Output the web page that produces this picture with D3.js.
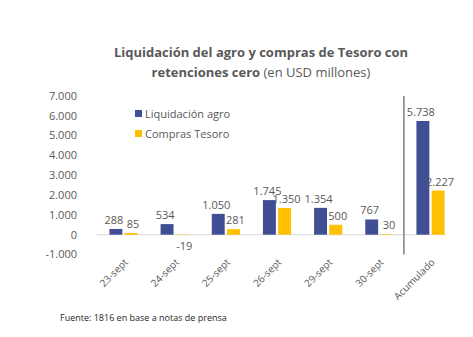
<!DOCTYPE html>
<html lang="es">
<head>
<meta charset="UTF-8">
<title>Liquidación del agro y compras de Tesoro</title>
<script src="https://d3js.org/d3.v7.min.js"></script>
<style>
    body { margin: 0; background: #fff; font-family: "Open Sans", Arial, sans-serif; }
    svg { display: block; }
</style>
</head>
<body>
<svg id="chart" width="473" height="337"></svg>
<script>
// Data
const categories = ["23-sept", "24-sept", "25-sept", "26-sept", "29-sept", "30-sept", "Acumulado"];
const liquidacion = [288, 534, 1050, 1745, 1354, 767, 5738];
const compras = [85, -19, 281, 1350, 500, 30, 2227];
const seriesNames = ["Liquidación agro", "Compras Tesoro"];
const colors = ["#404E93", "#FFC000"];
const yTicks = [-1000, 0, 1000, 2000, 3000, 4000, 5000, 6000, 7000];

// 1.234 style, plain hyphen for negatives
const fmt = v => (v < 0 ? "-" : "") + d3.format(",")(Math.abs(v)).replace(/,/g, ".");

const svg = d3.select("#chart");
const W = 473;

const x = d3.scaleBand().domain(categories).range([97, 457]).paddingInner(0.45).paddingOuter(0.243);
const x1 = d3.scaleBand().domain(seriesNames).range([0, x.bandwidth()]).paddingInner(0.15);
const y = d3.scaleLinear().domain([-1000, 7000]).range([254.5, 96]);

// Title
const title = svg.append("text").attr("text-anchor", "middle").attr("fill", "#595959")
    .style("font-size", "13px").style("font-weight", "bold");
title.append("tspan").attr("x", 261).attr("y", 57).text("Liquidación del agro y compras de Tesoro con");
const t2 = title.append("tspan").attr("x", 261).attr("y", 77);
t2.append("tspan").text("retenciones cero ");
t2.append("tspan").style("font-weight", "normal").text("(en USD millones)");

// Y axis labels
svg.append("g").selectAll("text").data(yTicks).join("text")
    .attr("x", 77).attr("y", d => y(d)).attr("dy", "0.35em")
    .attr("text-anchor", "end").attr("fill", "#595959").style("font-size", "11px")
    .text(d => fmt(d));

// Zero line
svg.append("line").attr("x1", 97).attr("x2", 446)
    .attr("y1", y(0)).attr("y2", y(0)).attr("stroke", "#d9d9d9").attr("stroke-width", 1);

// Separator before Acumulado
const sepX = (x("30-sept") + x.bandwidth() + x("Acumulado")) / 2 - 1;
svg.append("line").attr("x1", sepX).attr("x2", sepX).attr("y1", y(7000)).attr("y2", y(-1000))
    .attr("stroke", "#7f7f7f").attr("stroke-width", 1.5);

// Bars
const rows = categories.map((c, i) => ({cat: c, vals: [liquidacion[i], compras[i]]}));
const groups = svg.append("g").selectAll("g").data(rows).join("g")
    .attr("transform", d => `translate(${x(d.cat)},0)`);

groups.selectAll("rect").data(d => d.vals.map((v, j) => ({v, j}))).join("rect")
    .attr("x", d => x1(seriesNames[d.j]))
    .attr("width", x1.bandwidth())
    .attr("y", d => y(Math.max(0, d.v)))
    .attr("height", d => Math.abs(y(d.v) - y(0)))
    .attr("fill", d => colors[d.j]);

groups.selectAll("text").data(d => d.vals.map((v, j) => ({v, j}))).join("text")
    .attr("x", d => x1(seriesNames[d.j]) + x1.bandwidth() / 2 + (d.j ? 2 : -2))
    .attr("y", d => d.v < 0 ? y(d.v) + 15 : y(d.v) - 5)
    .attr("text-anchor", "middle").attr("fill", "#595959").style("font-size", "11px")
    .text(d => fmt(d.v));

// X labels
svg.append("g").selectAll("text").data(categories).join("text")
    .attr("transform", d => `translate(${x(d) + x.bandwidth() / 2 + 5},${263}) rotate(-45)`)
    .attr("text-anchor", "end").attr("fill", "#595959").style("font-size", "10px")
    .text(d => d);

// Legend
const legend = svg.append("g").attr("transform", "translate(135,114)");
seriesNames.forEach((s, i) => {
    const g = legend.append("g").attr("transform", `translate(0,${i * 20})`);
    g.append("rect").attr("x", 0).attr("y", -4).attr("width", 7).attr("height", 7).attr("fill", colors[i]);
    g.append("text").attr("x", 10).attr("y", 0).attr("dy", "0.35em")
        .attr("fill", "#595959").style("font-size", "11px").text(s);
});

// Source
svg.append("text").attr("x", 60).attr("y", 321).attr("fill", "#262626")
    .style("font-size", "9px").text("Fuente: 1816 en base a notas de prensa");
</script>
</body>
</html>
